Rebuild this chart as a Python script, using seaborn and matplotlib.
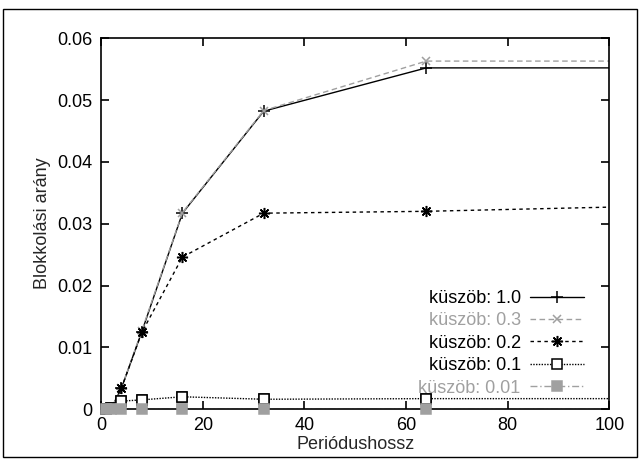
import matplotlib
matplotlib.use("Agg")
import matplotlib.pyplot as plt
import seaborn as sns
import pandas as pd
from matplotlib.patches import Rectangle

period = [1, 2, 4, 8, 16, 32, 64, 128]
thr_10 = [0.0, 0.0001, 0.0034, 0.0125, 0.0317, 0.0482, 0.0552, 0.0552]
thr_03 = [0.0, 0.0001, 0.0034, 0.0127, 0.0318, 0.0483, 0.0563, 0.0563]
thr_02 = [0.0, 0.0001, 0.0034, 0.0124, 0.0246, 0.0317, 0.0320, 0.0332]
thr_01 = [0.0, 0.0002, 0.0013, 0.0015, 0.0020, 0.0016, 0.0017, 0.0017]
thr_001 = [0.0, 0.0, 0.0, 0.0, 0.0, 0.0, 0.0, 0.0]

labels = ["küszöb: 1.0", "küszöb: 0.3", "küszöb: 0.2", "küszöb: 0.1", "küszöb: 0.01"]
series = [thr_10, thr_03, thr_02, thr_01, thr_001]

sns.set_theme(style="ticks")
plt.rcParams['font.family'] = ['Liberation Sans', 'DejaVu Sans']

fig = plt.figure(figsize=(6.4, 4.66), dpi=100)
ax = fig.add_axes([0.158, 0.122, 0.794, 0.796])

gray = "#a0a0a0"
styles = [
    dict(color="black", linestyle="-", marker="+", ms=8, mfc="black", mec="black"),
    dict(color=gray, linestyle=(0, (4, 2.5)), marker="x", ms=6, mfc=gray, mec=gray),
    dict(color="black", linestyle=(0, (2.5, 2.5)), marker=(8, 2, 0), ms=8, mfc="black", mec="black"),
    dict(color="black", linestyle=(0, (1, 1)), marker="s", ms=6.5, mfc="white", mec="black"),
    dict(color=gray, linestyle=(0, (5, 2, 1, 2)), marker="s", ms=6.5, mfc=gray, mec=gray),
]

rows = []
for lab, vals in zip(labels, series):
    for p, v in zip(period, vals):
        rows.append({"period": p, "rate": v, "series": lab})
df = pd.DataFrame(rows)

handles = []
for lab, st in zip(labels, styles):
    sub = df[df["series"] == lab]
    sns.lineplot(data=sub, x="period", y="rate", ax=ax, color=st["color"],
                 linestyle=st["linestyle"], linewidth=1.0, marker=st["marker"],
                 markersize=st["ms"], markerfacecolor=st["mfc"],
                 markeredgecolor=st["mec"], markeredgewidth=1.1,
                 label=lab, legend=False)
    handles.append(ax.lines[-1])

# markers on the baseline drawn unclipped (only those inside the x range)
for lab, st in zip(labels[3:], styles[3:]):
    sub = df[(df["series"] == lab) & (df["period"] <= 100)]
    ax.plot(sub["period"], sub["rate"], linestyle="none", marker=st["marker"],
            markersize=st["ms"], markerfacecolor=st["mfc"],
            markeredgecolor=st["mec"], markeredgewidth=1.1, clip_on=False,
            zorder=3)

ax.set_xlim(0, 100)
ax.set_ylim(0, 0.06)
ax.set_xticks([0, 20, 40, 60, 80, 100])
ax.set_xticklabels(["0", "20", "40", "60", "80", "100"])
ax.set_yticks([0, 0.01, 0.02, 0.03, 0.04, 0.05, 0.06])
ax.set_yticklabels(["0", "0.01", "0.02", "0.03", "0.04", "0.05", "0.06"])
ax.tick_params(direction="in", length=6, width=1.2, top=True, right=True,
               labelsize=13, colors="black", pad=6)
for s in ax.spines.values():
    s.set_linewidth(1.2)
    s.set_color("black")
ax.set_xlabel("Periódushossz", fontsize=13, labelpad=1)
ax.set_ylabel("Blokkolási arány", fontsize=13, labelpad=5)

leg = ax.legend(handles=handles, labels=labels, loc="lower right",
                bbox_to_anchor=(0.975, 0.0), markerfirst=False, frameon=False,
                fontsize=13, handlelength=3.0, handletextpad=0.5,
                labelspacing=0.3, borderaxespad=0.3)
for txt, st in zip(leg.get_texts(), styles):
    txt.set_color(st["color"])
    txt.set_ha("right")

fig.patches.append(Rectangle((0.005, 0.02), 0.99, 0.96, transform=fig.transFigure,
                             fill=False, edgecolor="black", linewidth=1.0))

fig.savefig("out.png", dpi=100)
